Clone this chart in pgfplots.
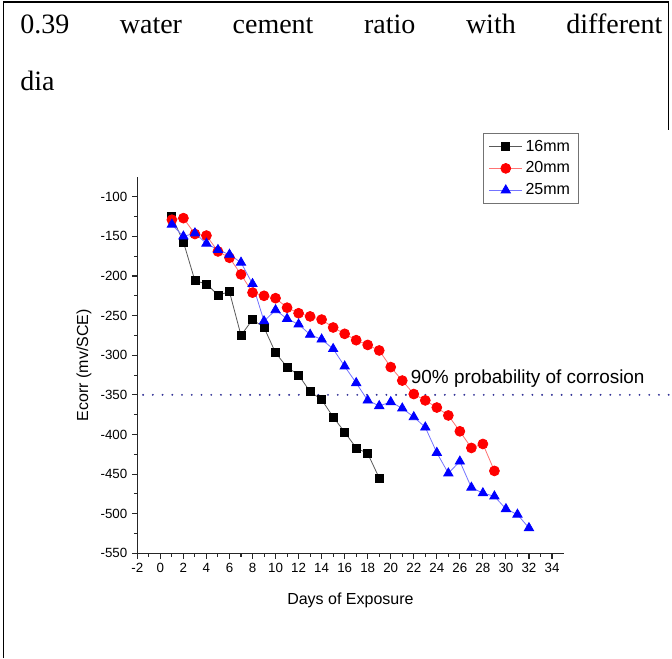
\documentclass[border=0pt]{standalone}
\usepackage{fontspec}
\setmainfont{Liberation Sans}
\newfontfamily\titlefont{Liberation Serif}
\usepackage{pgfplots}
\pgfplotsset{compat=1.18}
\definecolor{navydot}{RGB}{50,50,150}
\begin{document}
\begin{tikzpicture}
\useasboundingbox (0pt,0pt) rectangle (504pt,493.5pt);
\draw[line width=1.2pt] (2.6pt,0pt) -- (2.6pt,492pt) -- (501.4pt,492pt) -- (501.4pt,396pt);
\node[anchor=base west, inner sep=0pt] at (15pt,468.5pt) {\titlefont\fontsize{21}{25}\selectfont\makebox[481.5pt][s]{0.39 water cement ratio with different}};
\node[anchor=base west, inner sep=0pt] at (15pt,425.5pt) {\titlefont\fontsize{21}{25}\selectfont dia};
\begin{axis}[
  at={(103pt,78.5pt)}, anchor=south west,
  scale only axis, width=319.65pt, height=282.3pt,
  xmin=-2, xmax=35, ymin=-550, ymax=-75,
  axis lines=left, axis line style={-, line width=1pt, black!85},
  xtick={-2,0,...,34}, minor x tick num=1,
  ytick={-550,-500,...,-100}, minor y tick num=1,
  tick align=outside,
  major tick length=4pt, minor tick length=2.5pt,
  tick style={black!85, line width=0.8pt},
  tick label style={font=\fontsize{10}{12}\selectfont},
  /pgf/number format/assume math mode=true,
  xlabel={Days of Exposure}, ylabel={Ecorr (mv/SCE)},
  label style={font=\fontsize{12}{14}\selectfont},
  xlabel style={yshift=-8pt},
  clip=false,
  legend style={at={(0.811,1.117)}, anchor=north west, draw=black!55, line width=0.6pt,
    font=\fontsize{12}{13}\selectfont, inner xsep=4pt, inner ysep=3pt, row sep=2.5pt},
  legend cell align=left,
  legend image code/.code={\draw[mark repeat=2,mark phase=2,#1] plot coordinates {(0pt,0pt)(12.5pt,0pt)(25pt,0pt)};},
]
\addplot[forget plot, color=navydot, line width=1.6pt, dash pattern=on 0pt off 7.3pt, line cap=round]
  coordinates {(-1.5,-350) (44.3,-350)};
\addplot[color=black!65, line width=0.6pt, mark=square*, mark size=3pt, mark options={black, fill=black}]
  coordinates {(1,-125)(2,-157)(3,-206)(4,-210)(5,-224)(6,-220)(7,-275)(8,-255)(9,-265)(10,-297)(11,-315)(12,-325)(13,-346)(14,-356)(15,-378)(16,-397)(17,-417)(18,-424)(19,-455)};
\addlegendentry{16mm}
\addplot[color=red!55, line width=0.6pt, mark=*, mark size=3.7pt, mark options={red, fill=red}]
  coordinates {(1,-129)(2,-127)(3,-147)(4,-149)(5,-169)(6,-177)(7,-198)(8,-221)(9,-225)(10,-228)(11,-240)(12,-247)(13,-251)(14,-255)(15,-265)(16,-273)(17,-281)(18,-287)(19,-294)(20,-315)(21,-332)(22,-349)(23,-357)(24,-366)(25,-376)(26,-396)(27,-417)(28,-412)(29,-446)};
\addlegendentry{20mm}
\addplot[color=blue!55, line width=0.6pt, mark=triangle*, mark size=4pt, mark options={blue, fill=blue}]
  coordinates {(1,-135)(2,-150)(3,-146)(4,-159)(5,-167)(6,-173)(7,-183)(8,-210)(9,-257)(10,-243)(11,-254)(12,-261)(13,-274)(14,-280)(15,-292)(16,-314)(17,-335)(18,-357)(19,-364)(20,-359)(21,-367)(22,-378)(23,-391)(24,-423)(25,-449)(26,-434)(27,-467)(28,-474)(29,-478)(30,-494)(31,-501)(32,-518)};
\addlegendentry{25mm}
\node[anchor=base west, inner sep=0pt, font=\fontsize{14.2}{16}\selectfont] at (axis cs:21.73,-336.2) {90\% probability of corrosion};
\end{axis}
\end{tikzpicture}
\end{document}
